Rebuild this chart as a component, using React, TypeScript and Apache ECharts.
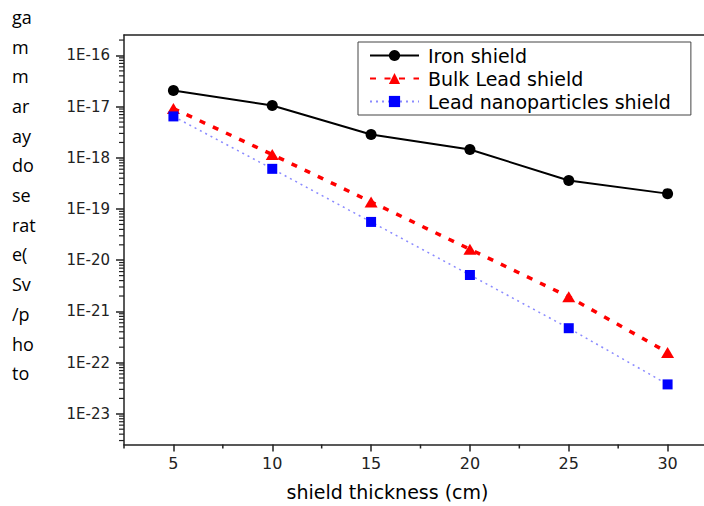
import React, { useEffect, useRef } from 'react';
import * as echarts from 'echarts';

// ---- data ----
const thickness = [5, 10, 15, 20, 25, 30];
const ironShield = [2.07e-17, 1.05e-17, 2.86e-18, 1.46e-18, 3.6e-19, 2.0e-19];
const bulkLeadShield = [9.2e-18, 1.16e-18, 1.38e-19, 1.64e-20, 1.93e-21, 1.58e-22];
const leadNanoShield = [6.45e-18, 6.1e-19, 5.6e-20, 5.15e-21, 4.7e-22, 3.75e-23];
const seriesNames = ['Iron shield', 'Bulk Lead shield', 'Lead nanoparticles shield'];

const xMajorTicks = [5, 10, 15, 20, 25, 30];
const xMinorTicks = [2.5, 7.5, 12.5, 17.5, 22.5, 27.5];
const yDecadeExponents = [-23, -22, -21, -20, -19, -18, -17, -16];
const yTitleLines = ['ga', 'm', 'm', 'ar', 'ay', 'do', 'se', 'rat', 'e(', 'Sv', '/p', 'ho', 'to'];
const xTitle = 'shield thickness (cm)';

const Y_MIN = -23.6;
const Y_MAX = -15.6;
const X_MIN = 2.5;
const X_MAX = 32.5;

const yMinorTicks: number[] = [];
for (let n = -24; n <= -16; n++) {
  for (let k = 2; k <= 9; k++) {
    const v = n + Math.log10(k);
    if (v > Y_MIN && v < Y_MAX) yMinorTicks.push(v);
  }
}

const toPoints = (vals: number[]) => thickness.map((x, i) => [x, Math.log10(vals[i])]);

const FONT = 'DejaVu Sans';
const AX = '#222';

export default function App() {
  const ref = useRef<HTMLDivElement>(null);
  useEffect(() => {
    if (!ref.current) return;
    const chart = echarts.init(ref.current, undefined, { renderer: 'svg' });
    const baseX = {
      type: 'value' as const,
      min: X_MIN,
      max: X_MAX,
      interval: 2.5,
      splitLine: { show: false },
    };
    const minorTickData = [
      ...yMinorTicks.map((v) => [X_MIN, v, 0]),
      ...xMinorTicks.map((v) => [v, Y_MIN, 1]),
    ];
    chart.setOption({
      animation: false,
      backgroundColor: '#fff',
      grid: { left: 124, top: 35, right: -13, bottom: 61.5, containLabel: false, outerBoundsMode: 'none' },
      legend: {
        orient: 'vertical',
        left: 358,
        top: 42,
        data: seriesNames,
        itemWidth: 49,
        itemHeight: 14,
        itemGap: 4,
        padding: [4, 20, 4, 11],
        borderColor: '#444',
        borderWidth: 1,
        backgroundColor: '#fff',
        textStyle: { fontFamily: FONT, fontSize: 19, lineHeight: 19, color: '#000', padding: [0, 0, 0, 4] },
      },
      xAxis: [
        {
          ...baseX,
          position: 'bottom',
          name: xTitle,
          nameLocation: 'middle',
          nameGap: 38,
          nameTextStyle: { fontFamily: FONT, fontSize: 19, color: '#000', padding: [0, 66, 0, 0] },
          axisLine: { show: true, onZero: false, lineStyle: { color: AX, width: 1.5 } },
          axisTick: { show: true, customValues: xMajorTicks, length: 7, lineStyle: { color: AX, width: 1.5 } },
          axisLabel: { customValues: xMajorTicks, margin: 11, fontFamily: FONT, fontSize: 16, color: '#222' },
        },
        {
          ...baseX,
          position: 'top',
          axisLine: { show: true, onZero: false, lineStyle: { color: AX, width: 1.5 } },
          axisTick: { show: false },
          axisLabel: { show: false },
        },
      ],
      yAxis: [
        {
          type: 'value',
          min: Y_MIN,
          max: Y_MAX,
          splitLine: { show: false },
          position: 'left',
          axisLine: { show: true, onZero: false, lineStyle: { color: AX, width: 1.5 } },
          axisTick: { show: true, customValues: yDecadeExponents, length: 8, lineStyle: { color: AX, width: 1.5 } },
          axisLabel: {
            customValues: yDecadeExponents,
            formatter: (v: number) => '1E' + Math.round(v),
            margin: 14,
            fontFamily: FONT,
            fontSize: 15,
            color: '#222',
          },
        },
      ],
      graphic: [
        {
          type: 'text',
          left: 12,
          top: 2,
          style: {
            text: yTitleLines.join('\n'),
            font: '18px "Open Sans"',
            lineHeight: 29.7,
            fill: '#000',
          },
        },
      ],
      series: [
        {
          type: 'custom',
          silent: true,
          clip: false,
          z: 1,
          data: minorTickData,
          renderItem: (_params: any, api: any) => {
            const p = api.coord([api.value(0), api.value(1)]);
            const isX = api.value(2) === 1;
            return {
              type: 'line',
              shape: isX
                ? { x1: p[0], y1: p[1], x2: p[0], y2: p[1] + 4 }
                : { x1: p[0] - 5, y1: p[1], x2: p[0], y2: p[1] },
              style: { stroke: AX, lineWidth: isX ? 1.5 : 1.2 },
            };
          },
        },
        {
          name: seriesNames[0],
          type: 'line',
          data: toPoints(ironShield),
          symbol: 'circle',
          symbolSize: 11,
          itemStyle: { color: '#000' },
          lineStyle: { color: '#000', width: 2 },
        },
        {
          name: seriesNames[1],
          type: 'line',
          data: toPoints(bulkLeadShield),
          symbol: 'triangle',
          symbolSize: [13, 11],
          itemStyle: { color: '#ff0000' },
          lineStyle: { color: '#ff0000', width: 3.5, type: [6, 8.5] },
        },
        {
          name: seriesNames[2],
          type: 'line',
          data: toPoints(leadNanoShield),
          symbol: 'rect',
          symbolSize: 10,
          itemStyle: { color: '#0000ff' },
          lineStyle: { color: '#8a8aff', width: 1.5, type: [2, 4] },
        },
      ],
    });
    return () => chart.dispose();
  }, []);
  return (
    <div
      ref={ref}
      style={{ position: 'fixed', left: 0, top: 0, width: 704, height: 506, background: '#fff' }}
    />
  );
}
